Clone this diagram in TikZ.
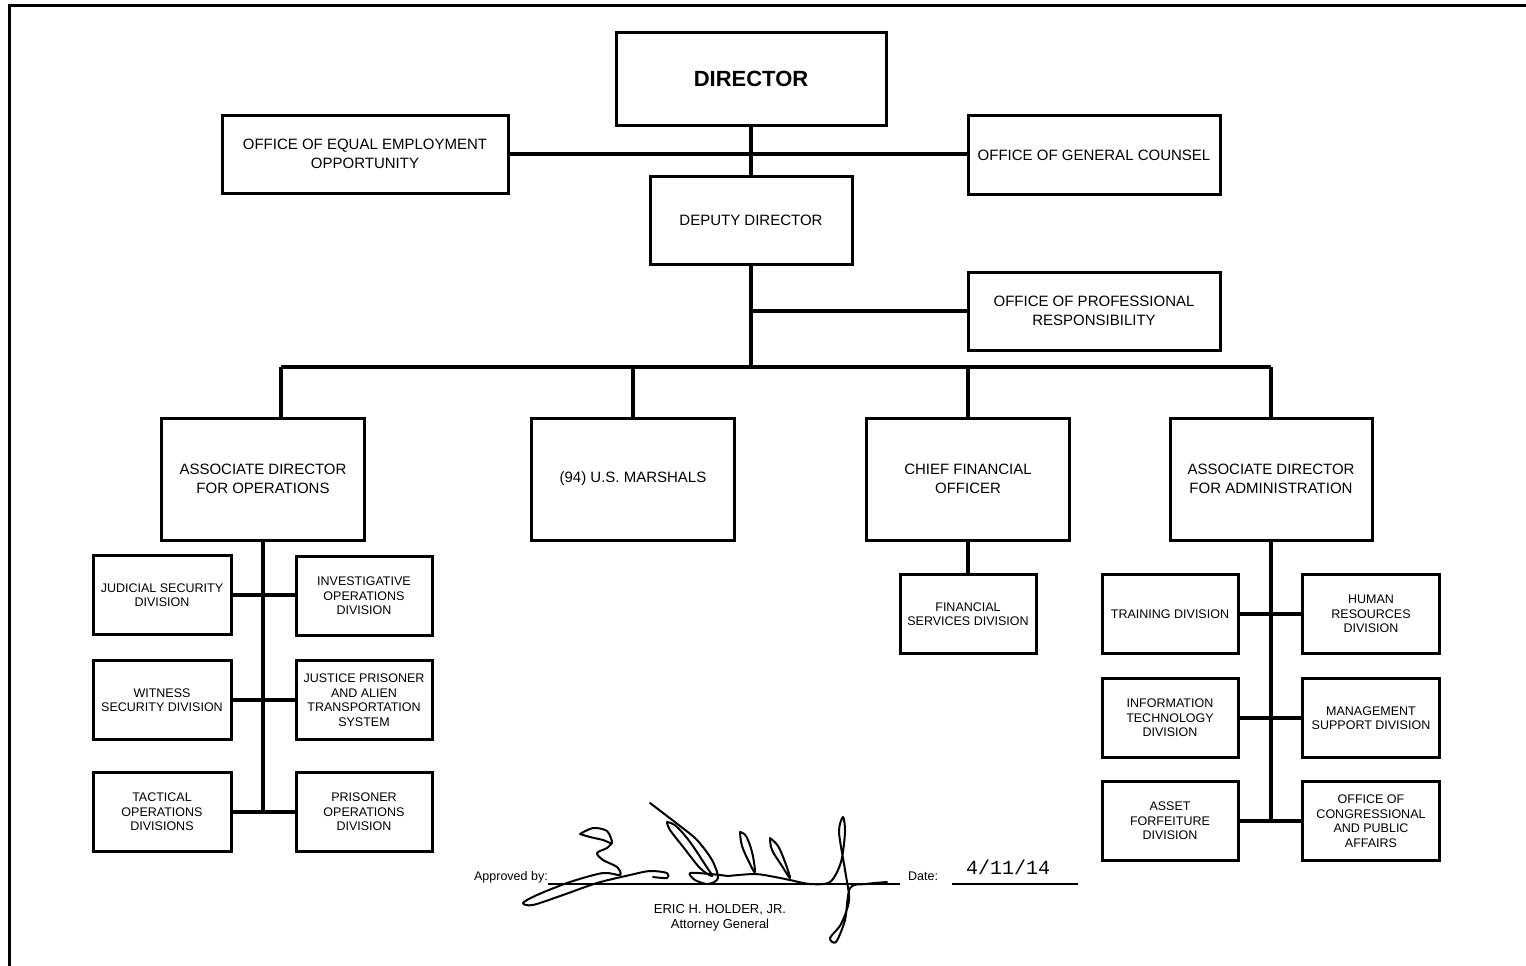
\documentclass[tikz,border=0pt]{standalone}
\usepackage{fontspec}
\setmainfont{Liberation Sans}
\setmonofont{Liberation Mono}

\begin{document}
\begin{tikzpicture}[x=1pt,y=-1pt,
  unit/.style 2 args={draw,line width=3pt,minimum width=#1,minimum height=#2,
    inner sep=0pt,align=center,font=\fontsize{15}{18.5}\selectfont},
  division/.style={unit={#1}{79},font=\fontsize{12.5}{14.6}\selectfont},
  wire/.style={line width=4.5pt},
  small/.style={font=\fontsize{12.5}{15}\selectfont,inner sep=0pt},
  pen/.style={line width=2pt,line cap=round,line join=round}]
\useasboundingbox (0,0) rectangle (1526,966);
\draw[line width=3pt] (9.5,966) -- (9.5,5.5) -- (1526,5.5);

\node [unit={270}{92},font=\fontsize{22}{26}\bfseries] (dir) at (751,79) {DIRECTOR};
\node [unit={286}{78}] (eeo) at (365,154) {OFFICE OF EQUAL EMPLOYMENT\\OPPORTUNITY};
\node [unit={252}{79}] (ogc) at (1094,155) {OFFICE OF GENERAL COUNSEL};
\node [unit={202}{88}] (dep) at (751,220) {DEPUTY DIRECTOR};
\node [unit={252}{78}] (opr) at (1094,311) {OFFICE OF PROFESSIONAL\\RESPONSIBILITY};
\node [unit={203}{122}] (ado) at (263,479) {ASSOCIATE DIRECTOR\\FOR OPERATIONS};
\node [unit={203}{122}] (usm) at (633,479) {(94) U.S. MARSHALS};
\node [unit={203}{122}] (cfo) at (968,479) {CHIEF FINANCIAL\\OFFICER};
\node [unit={202}{122}] (ada) at (1271,479) {ASSOCIATE DIRECTOR\\FOR ADMINISTRATION};
\node [division=136] (fsd) at (968,614) {FINANCIAL\\SERVICES DIVISION};

\node [division=138] (jsd) at (162,595) {JUDICIAL SECURITY\\DIVISION};
\node [division=136] (iod) at (364,596) {INVESTIGATIVE\\OPERATIONS\\DIVISION};
\node [division=138] (wsd) at (162,700) {WITNESS\\SECURITY DIVISION};
\node [division=136] (jpats) at (364,700) {JUSTICE PRISONER\\AND ALIEN\\TRANSPORTATION\\SYSTEM};
\node [division=138] (tod) at (162,812) {TACTICAL\\OPERATIONS\\DIVISIONS};
\node [division=136] (pod) at (364,812) {PRISONER\\OPERATIONS\\DIVISION};

\node [division=136] (trd) at (1170,614) {TRAINING DIVISION};
\node [division=137] (hrd) at (1371,614) {HUMAN\\RESOURCES\\DIVISION};
\node [division=136] (itd) at (1170,718) {INFORMATION\\TECHNOLOGY\\DIVISION};
\node [division=137] (msd) at (1371,718) {MANAGEMENT\\SUPPORT DIVISION};
\node [division=136] (afd) at (1170,821) {ASSET\\FORFEITURE\\DIVISION};
\node [division=137] (ocpa) at (1371,821) {OFFICE OF\\CONGRESSIONAL\\AND PUBLIC\\AFFAIRS};

\coordinate (bus) at (751,367);
\coordinate (opsdrop) at (281,367);

\draw[wire] (dir) -- (dep);
\draw[wire] (eeo.east) -- (eeo.east -| ogc.west);
\draw[wire] (dep) -- (bus);
\draw[wire] (dep.south |- opr) -- (opr.west);
\draw[wire] (opsdrop) -- (ada.north |- bus);
\draw[wire] (opsdrop) -- (opsdrop |- ado.north);
\draw[wire] (usm.north |- bus) -- (usm);
\draw[wire] (cfo.north |- bus) -- (cfo);
\draw[wire] (ada.north |- bus) -- (ada);
\draw[wire] (cfo) -- (fsd);

\draw[wire] (ado.south) -- (ado.south |- tod.east);
\draw[wire] (jsd.east) -- (jsd.east -| iod.west);
\draw[wire] (wsd.east) -- (wsd.east -| jpats.west);
\draw[wire] (tod.east) -- (tod.east -| pod.west);

\draw[wire] (ada.south) -- (ada.south |- afd.east);
\draw[wire] (trd.east) -- (trd.east -| hrd.west);
\draw[wire] (itd.east) -- (itd.east -| msd.west);
\draw[wire] (afd.east) -- (afd.east -| ocpa.west);

\node [small,anchor=base east] (appr) at (548,880) {Approved by:};
\draw[line width=1.2pt] (548,884) -- (900,884);
\node [small,anchor=base west] (date) at (908,880) {Date:};
\node [font=\ttfamily\fontsize{20}{22}\selectfont,inner sep=0pt,anchor=base] (when) at (1008,874) {4/11/14};
\draw[line width=1.2pt] (952,884) -- (1078,884);
\node [small,font=\fontsize{13}{15}\selectfont,align=center,anchor=north] (ag) at (720,904) {ERIC H. HOLDER, JR.\\Attorney General};

\draw[pen] plot[smooth,tension=0.5] coordinates {(580,834) (590,837) (603,840) (612,843)
  (607,831) (593,828) (580,834)};
\draw[pen] plot[smooth,tension=0.5] coordinates {(612,843) (607,848) (597,853) (603,860)
  (617,867) (620,875) (603,873) (570,882) (537,895) (523,903) (533,905) (563,895)
  (597,883) (630,875) (650,871) (667,873) (667,878) (653,877)};
\draw[pen] plot[smooth,tension=0.5] coordinates {(650,803) (680,826) (697,840) (712,860)
  (718,878) (708,884) (695,880) (690,873) (710,874) (728,876)};
\draw[pen] plot[smooth,tension=0.6] coordinates {(667,822) (676,826) (690,842) (706,866)
  (712,876) (700,868) (684,848) (670,830) (667,822)};
\draw[pen] plot[smooth,tension=0.6] coordinates {(740,832) (746,836) (752,852) (755,872)
  (750,864) (742,846) (740,832)};
\draw[pen] plot[smooth,tension=0.6] coordinates {(770,838) (778,846) (785,862) (790,878)
  (782,866) (772,850) (770,838)};
\draw[pen] plot[smooth,tension=0.5] coordinates {(728,876) (755,874) (775,877) (790,880)
  (810,884) (830,882) (841,862) (845,832) (843,817) (839,832) (845,870) (849,900)
  (841,924) (830,938) (836,942) (845,920) (850,888) (866,884) (887,882)};
\end{tikzpicture}
\end{document}
